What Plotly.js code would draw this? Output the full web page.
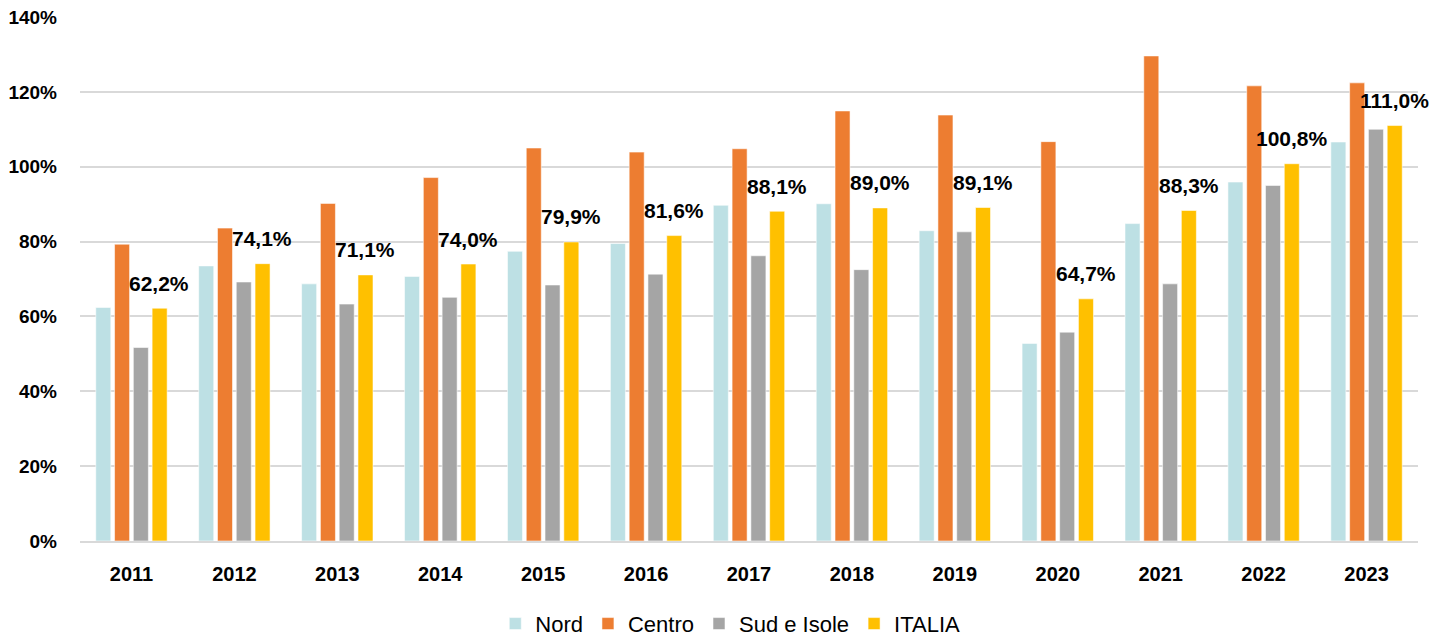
<!DOCTYPE html>
<html>
<head>
<meta charset="utf-8">
<script src="https://cdn.plot.ly/plotly-3.0.1.min.js"></script>
<style>
html,body{margin:0;padding:0;background:#fff;}
#chart{width:1431px;height:639px;}
</style>
</head>
<body>
<div id="chart"></div>
<script>
var years = ["2011","2012","2013","2014","2015","2016","2017","2018","2019","2020","2021","2022","2023"];
var nord = [62.4, 73.5, 68.7, 70.7, 77.4, 79.5, 89.7, 90.1, 82.9, 52.8, 84.8, 95.9, 106.6];
var centro = [79.3, 83.6, 90.2, 97.1, 105.0, 103.9, 104.8, 114.9, 113.8, 106.7, 129.6, 121.6, 122.4];
var sud = [51.7, 69.2, 63.3, 65.1, 68.4, 71.3, 76.2, 72.5, 82.6, 55.8, 68.7, 95.0, 110.0];
var italia = [62.2, 74.1, 71.1, 74.0, 79.9, 81.6, 88.1, 89.0, 89.1, 64.7, 88.3, 100.8, 111.0];
var italiaLabels = ["62,2%","74,1%","71,1%","74,0%","79,9%","81,6%","88,1%","89,0%","89,1%","64,7%","88,3%","100,8%","111,0%"];
var seriesNames = ["Nord","Centro","Sud e Isole","ITALIA"];
var colors = ["#BDE0E4","#ED7D31","#A5A5A5","#FFC000"];

var font = "'Liberation Sans', Arial, sans-serif";
var all = [nord, centro, sud, italia];
var traces = all.map(function(vals, i){
  return {
    type: 'bar',
    name: seriesNames[i],
    x: years,
    y: vals,
    marker: {color: colors[i], line: {color: 'rgba(255,255,255,0.55)', width: 1}},
    hoverinfo: 'skip'
  };
});

var annotations = years.map(function(yr, i){
  return {
    x: i, y: italia[i], xref: 'x', yref: 'y',
    text: italiaLabels[i], showarrow: false,
    xanchor: 'center', yanchor: 'middle',
    xshift: 28, yshift: 25,
    font: {family: font, size: 21, color: '#000000', weight: 'bold'}
  };
});

var layout = {
  width: 1431, height: 639,
  margin: {l: 80, r: 13, t: 17, b: 98, autoexpand: false},
  paper_bgcolor: '#ffffff', plot_bgcolor: '#ffffff',
  barmode: 'group',
  bargap: 0.27,
  bargroupgap: 0.2,
  showlegend: true,
  legend: {
    orientation: 'h', x: 0.486, xanchor: 'center', y: -0.158, yanchor: 'middle',
    font: {family: font, size: 22, color: '#000000'},
    itemwidth: 30, traceorder: 'normal'
  },
  xaxis: {
    type: 'category',
    range: [-0.5, years.length - 0.5],
    autorange: false,
    tickfont: {family: font, size: 20, color: '#000000', weight: 'bold'},
    showgrid: false, zeroline: false,
    showline: true, linecolor: '#d9d9d9', linewidth: 2,
    ticks: '', ticklabelstandoff: 14
  },
  yaxis: {
    range: [0, 140], autorange: false, dtick: 20, tick0: 0,
    ticksuffix: '%',
    tickfont: {family: font, size: 19, color: '#000000', weight: 'bold'},
    showgrid: true, gridcolor: '#d9d9d9', gridwidth: 2,
    zeroline: false, showline: false, ticks: '',
    ticklabelstandoff: 22
  },
  annotations: annotations
};

Plotly.newPlot('chart', traces, layout, {displayModeBar: false, staticPlot: true});
</script>
</body>
</html>
